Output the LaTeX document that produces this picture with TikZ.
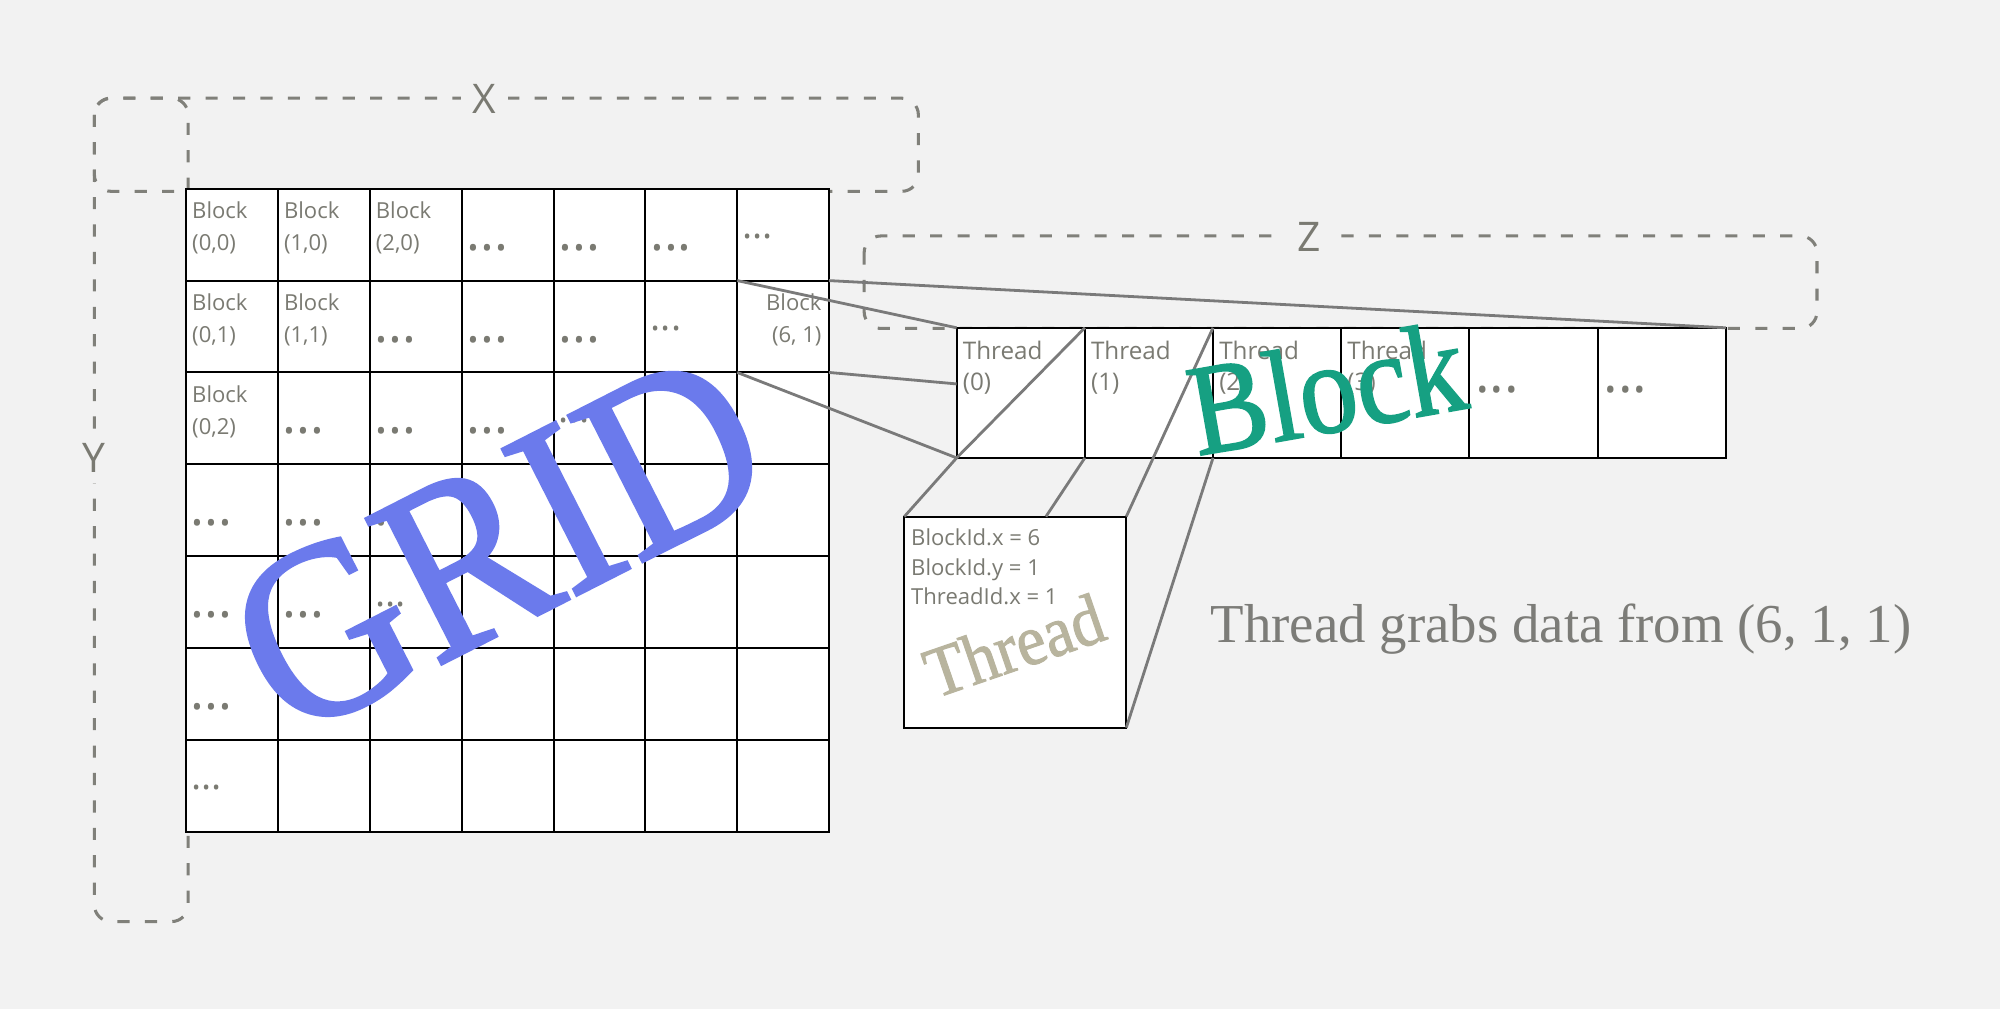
\documentclass[tikz,border=0pt]{standalone}
\usepackage{fontspec}
\newfontfamily\osans{Open Sans}
\newfontfamily\lserif{Liberation Serif}
\newfontfamily\lserifb[FakeBold=1.4]{Liberation Serif}
\definecolor{bg}{RGB}{242,242,242}
\definecolor{txt}{RGB}{122,122,114}
\definecolor{dsh}{RGB}{128,128,122}
\definecolor{conn}{RGB}{122,122,122}
\definecolor{gridblue}{RGB}{107,122,236}
\definecolor{blockteal}{RGB}{22,160,130}
\definecolor{threadtan}{RGB}{184,180,158}
\definecolor{stmt}{RGB}{124,124,120}
\newcommand\gridlbl[4]{%
  \node[lbl] (ga#1#2) at ({150.5+72*#1},{171.5+72*#2}) {#3};
  \node[lbl] (gb#1#2) at ({150.5+72*#1},{196.5+72*#2}) {#4};}
\newcommand\bigdts[2]{\node[bigdot] (bd#1#2) at ({149.5+72*#1},{196.2+72*#2}) {...};}
\newcommand\smldts[2]{\node[smalldot] (sd#1#2) at ({150+72*#1},{187.3+72*#2}) {...};}
\begin{document}
\begin{tikzpicture}[x=1pt,y=-1pt,
  dashbox/.style={draw=dsh, line width=2.4pt, dash pattern=on 9.5pt off 12pt, rounded corners=13pt},
  cellbox/.style={draw=black, line width=1.5pt, fill=white, inner sep=0pt, outer sep=0pt, anchor=north west},
  lbl/.style={font=\osans\fontsize{17.3}{17.3}\selectfont, text=txt, inner sep=0pt, anchor=base west},
  thr/.style={lbl, font=\osans\fontsize{19}{19}\selectfont},
  bigdot/.style={lbl, font=\osans\fontsize{41}{41}\selectfont},
  strdot/.style={lbl, font=\osans\fontsize{43}{43}\selectfont},
  smalldot/.style={lbl, font=\osans\fontsize{30}{30}\selectfont},
  axlbl/.style={font=\osans\fontsize{32}{32}\selectfont, text=txt, fill=bg},
  conline/.style={draw=conn, line width=2.2pt},
  big/.style={inner sep=0pt}
]
\fill[bg] (0,0) rectangle (1568,791);
\useasboundingbox (0,0) rectangle (1568,791);
% dashed brackets
\draw[dashbox] (74,77) rectangle (720,150);
\draw[dashbox] (74,77) rectangle (147.5,722.5);
\draw[dashbox] (677.5,185) rectangle (1424.5,257.5);
\node[axlbl, inner xsep=9pt, inner ysep=1pt] (lx) at (380,77.5) {X};
\node[axlbl, inner xsep=1pt, inner ysep=8pt] (ly) at (73.7,359.3) {Y};
\node[axlbl, inner xsep=10pt, inner ysep=1pt] (lz) at (1026,186) {Z};
% grid
\foreach \c in {0,...,6}{\foreach \r in {0,...,6}{
  \node[cellbox, minimum width=72pt, minimum height=72pt] (g\c\r) at ({146+72*\c},{148+72*\r}) {};
}}
% block strip
\foreach \i in {0,...,5}{
  \node[cellbox, minimum width=100.5pt, minimum height=102pt] (t\i) at ({750+100.5*\i},257) {};
}
% grid texts
\gridlbl{0}{0}{Block}{(0,0)}
\gridlbl{1}{0}{Block}{(1,0)}
\gridlbl{2}{0}{Block}{(2,0)}
\bigdts{3}{0}\bigdts{4}{0}\bigdts{5}{0}\smldts{6}{0}
\gridlbl{0}{1}{Block}{(0,1)}
\gridlbl{1}{1}{Block}{(1,1)}
\bigdts{2}{1}\bigdts{3}{1}\bigdts{4}{1}\smldts{5}{1}
\node[lbl, anchor=base east] (ga61) at (644.2,243.8) {Block};
\node[lbl, anchor=base east] (gb61) at (644.2,268.4) {(6, 1)};
\gridlbl{0}{2}{Block}{(0,2)}
\bigdts{1}{2}\bigdts{2}{2}\bigdts{3}{2}\smldts{4}{2}
\bigdts{0}{3}\bigdts{1}{3}\bigdts{2}{3}\smldts{3}{3}
\bigdts{0}{4}\bigdts{1}{4}\smldts{2}{4}
\bigdts{0}{5}\smldts{1}{5}
\smldts{0}{6}
% strip texts
\foreach \i in {0,...,3}{
  \node[thr] (ta\i) at ({754.7+100.5*\i},281.5) {Thread};
  \node[thr] (tn\i) at ({754.7+100.5*\i},306.5) {(\i)};
}
\node[strdot] (td4) at ({1152+4.5},307.8) {...};
\node[strdot] (td5) at ({1252.5+4.5},307.8) {...};
% connectors
\coordinate (t0m) at (750,301);
\draw[conline] (g61.north west) -- (t0.north west);
\draw[conline] (g61.north east) -- (t5.north east);
\draw[conline] (g61.south east) -- (t0m);
\draw[conline] (g61.south west) -- (t0.south west);
% thread box
\node[cellbox, minimum width=174pt, minimum height=165.5pt] (tb) at (709,405) {};
\coordinate (tbm) at (820,405);
\draw[conline] (t0.south west) -- (t1.north west);
\draw[conline] (tb.north east) -- (t2.north west);
\draw[conline] (t0.south west) -- (tb.north west);
\draw[conline] (t1.south west) -- (tbm);
\draw[conline] (t2.south west) -- (tb.south east);
\node[lbl] (bx) at (714.2,427.8) {BlockId.x = 6};
\node[lbl] (by) at (714.2,450.8) {BlockId.y = 1};
\node[lbl] (tx) at (714.2,473.8) {ThreadId.x = 1};
% statement
\node[inner sep=0pt, anchor=base west, text=stmt, font=\lserif\fontsize{43}{43}\selectfont] (stmt) at (949,504) {Thread grabs data from (6, 1, 1)};
% big rotated labels
\node[big, rotate=27, yscale=1.1, text=gridblue, font=\lserifb\fontsize{178}{178}\selectfont] (grid) at (391,426) {GRID};
\node[big, rotate=10, yscale=1.12, text=blockteal, font=\lserifb\fontsize{91}{91}\selectfont] (blk) at (1040,304) {Block};
\node[big, rotate=19, yscale=1.1, text=threadtan, font=\lserifb\fontsize{51}{51}\selectfont] (thd) at (795,506) {Thread};
\end{tikzpicture}
\end{document}
